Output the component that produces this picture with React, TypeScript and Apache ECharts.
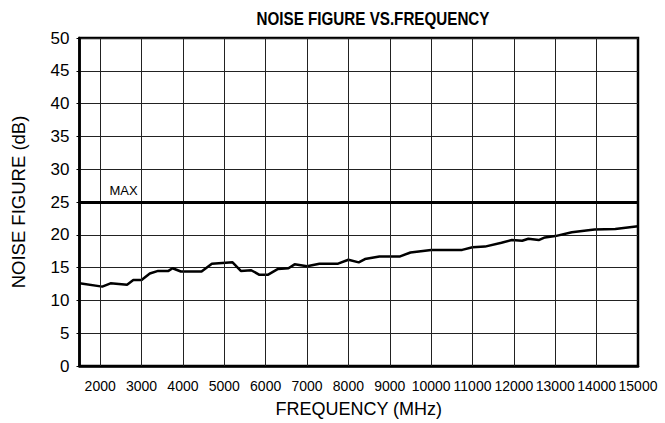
import React, { useEffect, useRef } from "react";
import * as echarts from "echarts";

const title = "NOISE FIGURE VS.FREQUENCY";
const xName = "FREQUENCY (MHz)";
const yName = "NOISE FIGURE (dB)";
const xTicks = [2000, 3000, 4000, 5000, 6000, 7000, 8000, 9000, 10000, 11000, 12000, 13000, 14000, 15000];
const freqs = [1500, 2050, 2250, 2450, 2650, 2800, 3000, 3200, 3400, 3650, 3750, 3950, 4450, 4700, 4950, 5200, 5400, 5650, 5850, 6050, 6300, 6550, 6700, 7000, 7300, 7750, 8000, 8250, 8400, 8750, 9250, 9500, 10000, 10750, 11000, 11300, 11700, 11950, 12200, 12350, 12600, 12750, 13000, 13400, 13950, 14450, 15000];
const noiseFigure = [12.6, 12.1, 12.6, 12.5, 12.4, 13.1, 13.1, 14.1, 14.5, 14.5, 14.9, 14.4, 14.4, 15.6, 15.7, 15.8, 14.5, 14.6, 13.9, 13.9, 14.8, 14.9, 15.5, 15.2, 15.6, 15.6, 16.2, 15.8, 16.3, 16.7, 16.7, 17.3, 17.7, 17.7, 18.1, 18.2, 18.8, 19.2, 19.1, 19.4, 19.2, 19.6, 19.8, 20.4, 20.8, 20.9, 21.3];
const maxLimit = 25;
const maxLabel = "MAX";

export default function App() {
  const ref = useRef<HTMLDivElement>(null);
  useEffect(() => {
    if (!ref.current) return;
    const chart = echarts.init(ref.current, null, { renderer: "svg" });
    const font = "Liberation Sans, Arial, Helvetica, sans-serif";
    chart.setOption({
      animation: false,
      backgroundColor: "#fff",
      graphic: [
        {
          type: "text",
          x: 373,
          y: 9,
          scaleX: 0.8,
          silent: true,
          style: {
            text: title,
            textAlign: "center",
            textVerticalAlign: "top",
            fontFamily: font,
            fontWeight: "bold",
            fontSize: 19,
            fill: "#000",
          },
        },
      ],
      grid: { left: 79.5, right: 27, top: 38, bottom: 55, show: true, borderColor: "#000", borderWidth: 2.5, backgroundColor: "transparent" },
      xAxis: {
        type: "value",
        min: 1500,
        max: 15000,
        interval: 500,
        name: xName,
        nameLocation: "middle",
        nameGap: 34,
        nameTextStyle: { fontFamily: font, fontSize: 18, color: "#000", verticalAlign: "top" },
        axisLine: { show: true, lineStyle: { color: "#000", width: 2.5 } },
        axisTick: { show: false },
        splitLine: { show: false },
        axisLabel: {
          fontFamily: font,
          fontSize: 14,
          color: "#000",
          margin: 13,
          hideOverlap: false,
          formatter: (v: number) => (xTicks.includes(v) ? String(v) : ""),
        },
      },
      yAxis: {
        type: "value",
        min: 0,
        max: 50,
        interval: 5,
        name: yName,
        nameLocation: "middle",
        nameGap: 52,
        nameTextStyle: { fontFamily: font, fontSize: 18.5, color: "#000" },
        axisLine: { show: true, lineStyle: { color: "#000", width: 2.5 } },
        axisTick: { show: true, length: 3, lineStyle: { color: "#000", width: 1 } },
        splitLine: { show: true, lineStyle: { color: "#222", width: 1 } },
        axisLabel: { fontFamily: font, fontSize: 17, color: "#000", margin: 10 },
      },
      series: [
        {
          type: "line",
          data: [],
          silent: true,
          z: 1,
          markLine: {
            silent: true,
            symbol: ["none", "none"],
            label: { show: false },
            lineStyle: { color: "#222", width: 1, type: "solid" },
            data: xTicks.slice(0, -1).map((v) => ({ xAxis: v })),
          },
        },
        {
          type: "line",
          data: [],
          silent: true,
          z: 3,
          markLine: {
            silent: true,
            symbol: ["none", "none"],
            lineStyle: { color: "#000", width: 3, type: "solid" },
            label: {
              show: true,
              formatter: maxLabel,
              position: "insideStartTop",
              distance: [30, 5],
              fontFamily: font,
              fontSize: 13,
              color: "#000",
            },
            data: [{ yAxis: maxLimit }],
          },
        },
        {
          type: "line",
          z: 4,
          data: freqs.map((f, i) => [f, noiseFigure[i]]),
          showSymbol: false,
          symbol: "none",
          lineStyle: { color: "#000", width: 2.5 },
        },
      ],
    });
    return () => chart.dispose();
  }, []);
  return <div ref={ref} style={{ position: "fixed", left: 0, top: 0, width: 665, height: 423 }} />;
}
